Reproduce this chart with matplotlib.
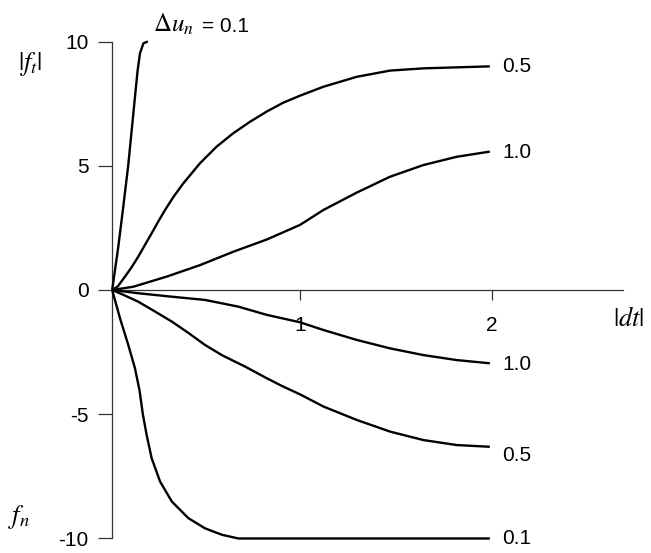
import matplotlib
matplotlib.use('Agg')
import matplotlib.pyplot as plt
from matplotlib.ticker import FixedLocator, FixedFormatter

plt.rcParams['font.family'] = ['Liberation Sans', 'DejaVu Sans']
plt.rcParams['mathtext.fontset'] = 'stix'
plt.rcParams['axes.unicode_minus'] = False

# ---- data ----
up01_x = [0.02, 0.052, 0.078, 0.104, 0.122, 0.139, 0.153, 0.165, 0.183, 0.206]
up01_y = [0.0, 1.74, 3.35, 5.03, 6.44, 7.77, 8.85, 9.52, 9.93, 10.0]

up05_x = [0.02, 0.05, 0.087, 0.12, 0.156, 0.19, 0.226, 0.26, 0.296, 0.34, 0.39, 0.478,
          0.565, 0.652, 0.739, 0.826, 0.913, 1.0, 1.122, 1.296, 1.47, 1.644, 1.817, 1.99]
up05_y = [0.0, 0.15, 0.54, 0.9, 1.34, 1.8, 2.28, 2.75, 3.22, 3.75, 4.28, 5.1,
          5.77, 6.31, 6.77, 7.18, 7.54, 7.82, 8.18, 8.58, 8.83, 8.92, 8.96, 9.0]

up10_x = [0.02, 0.13, 0.305, 0.478, 0.652, 0.826, 1.0, 1.122, 1.296, 1.47, 1.644, 1.817, 1.99]
up10_y = [0.0, 0.13, 0.54, 1.0, 1.54, 2.03, 2.62, 3.22, 3.92, 4.56, 5.03, 5.36, 5.57]

lo10_x = [0.02, 0.156, 0.331, 0.504, 0.678, 0.826, 1.0, 1.122, 1.296, 1.47, 1.644, 1.817, 1.99]
lo10_y = [0.0, -0.13, -0.27, -0.4, -0.67, -1.0, -1.3, -1.61, -2.01, -2.35, -2.62, -2.82, -2.95]

lo05_x = [0.02, 0.08, 0.156, 0.24, 0.331, 0.42, 0.504, 0.592, 0.652, 0.713, 0.826, 0.913,
          1.0, 1.122, 1.296, 1.47, 1.644, 1.817, 1.99]
lo05_y = [0.0, -0.2, -0.47, -0.85, -1.27, -1.74, -2.21, -2.62, -2.85, -3.08, -3.55, -3.89,
          -4.2, -4.69, -5.23, -5.7, -6.04, -6.24, -6.31]

lo01_x = [0.02, 0.061, 0.104, 0.139, 0.163, 0.18, 0.2, 0.226, 0.27, 0.331, 0.417,
          0.504, 0.592, 0.678, 1.99]
lo01_y = [0.0, -1.14, -2.21, -3.15, -4.05, -5.0, -5.84, -6.77, -7.71, -8.51, -9.18,
          -9.59, -9.85, -10.0, -10.0]

curve_labels = ['0.5', '1.0', '1.0', '0.5', '0.1']
x_ticks = [1, 2]
x_tick_labels = ['1', '2']
y_ticks = [-10, -5, 0, 5, 10]
y_tick_labels = ['-10', '-5', '0', '5', '10']

# ---- figure ----
fig = plt.figure(figsize=(6.51, 5.53), dpi=100)
ax = fig.add_axes([0.1664, 0.0038, 0.8098, 0.9436])
ax.set_xlim(0, 2.75)
ax.set_ylim(-10.5, 10.5)
ax.patch.set_visible(False)

curves = [(up01_x, up01_y), (up05_x, up05_y), (up10_x, up10_y),
          (lo10_x, lo10_y), (lo05_x, lo05_y), (lo01_x, lo01_y)]
for cx, cy in curves:
    ax.plot(cx, cy, color='black', lw=1.7, solid_joinstyle='round',
            solid_capstyle='butt', clip_on=False, zorder=3)

for sp in ['top', 'right']:
    ax.spines[sp].set_visible(False)
ax.spines['left'].set_position(('data', 0.02))
ax.spines['left'].set_bounds(-10, 10)
ax.spines['bottom'].set_position(('data', 0))
ax.spines['bottom'].set_bounds(0.02, 2.685)
for sp in ['left', 'bottom']:
    ax.spines[sp].set_color('#333333')
    ax.spines[sp].set_linewidth(0.9)

ax.xaxis.set_major_locator(FixedLocator(x_ticks))
ax.xaxis.set_major_formatter(FixedFormatter(x_tick_labels))
ax.yaxis.set_major_locator(FixedLocator(y_ticks))
ax.yaxis.set_major_formatter(FixedFormatter(y_tick_labels))
ax.tick_params(axis='y', direction='out', length=10, width=0.9, pad=7,
               labelsize=15, color='#333333')
ax.tick_params(axis='x', direction='out', length=7, width=0.9, pad=12,
               labelsize=15, color='#333333')

# curve labels at line ends
ends = [(up05_x, up05_y), (up10_x, up10_y), (lo10_x, lo10_y), (lo05_x, lo05_y), (lo01_x, lo01_y)]
offsets = [0, -1, -1, -6, 0]
for (cx, cy), lab, off in zip(ends, curve_labels, offsets):
    ax.annotate(lab, xy=(cx[-1], cy[-1]), xytext=(9, off), textcoords='offset points',
                ha='left', va='center', fontsize=15, annotation_clip=False)

ax.text(0.233, 10.38, r'$\Delta u_n$', fontsize=18, ha='left', va='baseline',
        clip_on=False)
ax.text(0.49, 10.38, '= 0.1', fontsize=15, ha='left', va='baseline', clip_on=False)
ax.text(-0.41, 9.1, r'$|f_t|$', fontsize=19, ha='center', va='center', clip_on=False)
ax.text(-0.466, -9.13, r'$f_n$', fontsize=19, ha='center', va='center', clip_on=False)
ax.text(2.716, -1.17, r'$|dt|$', fontsize=19, ha='center', va='center', clip_on=False)

fig.savefig('out.png', dpi=100)
